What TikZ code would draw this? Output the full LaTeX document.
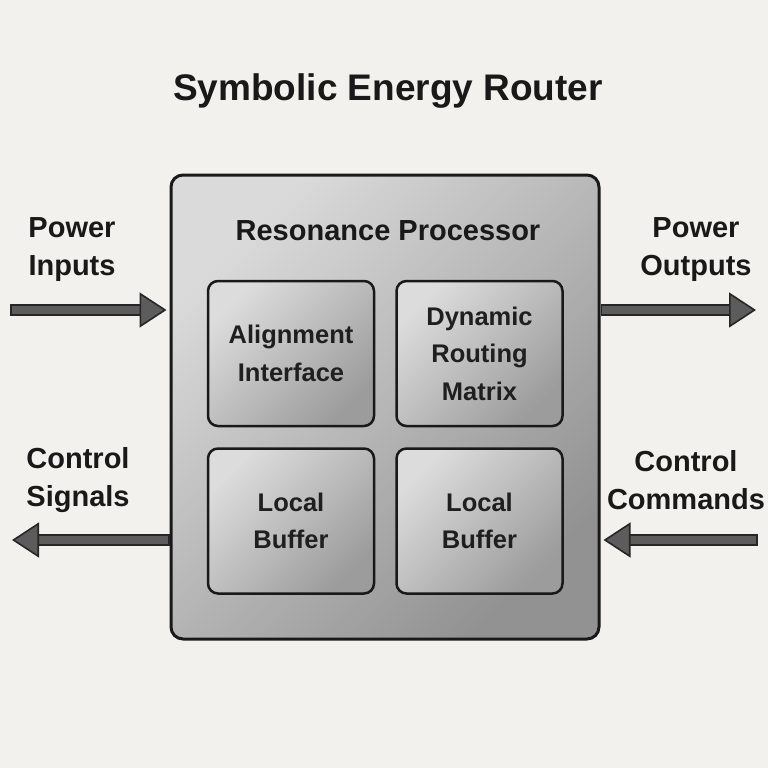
\documentclass[tikz,border=0pt]{standalone}
\usepackage{fontspec}
\setmainfont{Liberation Sans}
\usepackage{xcolor}
\usetikzlibrary{arrows.meta, positioning}

\definecolor{paper}{HTML}{F2F1EE}
\definecolor{boxlight}{HTML}{DADADA}
\definecolor{boxdark}{HTML}{929292}
\definecolor{celllight}{HTML}{DCDCDC}
\definecolor{celldark}{HTML}{9C9C9C}
\definecolor{arrowgray}{HTML}{5C5C5C}

\tikzset{
  outerbox/.style={draw=black!90, line width=3pt, rounded corners=12pt,
    top color=boxlight, bottom color=boxdark, shading angle=45,
    minimum width=428pt, minimum height=464pt, inner sep=0pt},
  cell/.style={draw=black!90, line width=2.5pt, rounded corners=10pt,
    top color=celllight, bottom color=celldark, shading angle=45,
    minimum width=166pt, minimum height=145pt, inner sep=0pt,
    align=center, font=\fontsize{25.5}{37.5}\selectfont\bfseries, text=black!88},
  sidelabel/.style={align=center, font=\fontsize{29}{38}\selectfont\bfseries, text=black!90},
  flowarrow/.style={line width=8.5pt, draw=arrowgray, shorten <=1.7pt,
    -{Triangle[length=27pt, width=35pt, color=black!85, fill=arrowgray, line width=1.6pt]},
    preaction={draw=black!85, line width=12pt, shorten >=16pt, shorten <=0pt, -}}
}

\begin{document}
\begin{tikzpicture}[x=1pt, y=-1pt]
    % page and background
    \useasboundingbox (0,0) rectangle (768,768);
    \fill[paper] (0,0) rectangle (768,768);

    % Title
    \node[font=\fontsize{37}{40}\selectfont\bfseries, text=black!90] (title) at (388,91) {Symbolic Energy Router};

    % Outer processor box
    \node[outerbox] (proc) at (385,407) {};
    \node[sidelabel] (proclabel) at (388,231) {Resonance Processor};

    % Inner cells
    \node[cell] (align) at (291,353.5) {Alignment\\Interface};
    \node[cell, right=20pt of align] (route) {Dynamic\\Routing\\Matrix};
    \node[cell, below=20pt of align] (bufL) {Local\\Buffer};
    \node[cell, below=20pt of route] (bufR) {Local\\Buffer};

    % Side labels
    \node[sidelabel] (pin) at (72,250) {Power\\Inputs};
    \node[sidelabel] (pout) at (696,250) {Power\\Outputs};
    \node[sidelabel] (csig) at (78,480) {Control\\Signals};
    \node[sidelabel] (ccmd) at (686,480) {Control\\Commands};

    % Free ends of the arrows
    \coordinate (pinEnd) at (10,310);
    \coordinate (poutEnd) at (756,310);
    \coordinate (csigEnd) at (12,540);
    \coordinate (ccmdEnd) at (758,540);

    % Arrows
    \draw[flowarrow] (pinEnd) -- ([xshift=-3pt]proc.west |- pinEnd);
    \draw[flowarrow] (proc.east |- poutEnd) -- (poutEnd);
    \draw[flowarrow] (proc.west |- csigEnd) -- (csigEnd);
    \draw[flowarrow] (ccmdEnd) -- ([xshift=3pt]proc.east |- ccmdEnd);
\end{tikzpicture}
\end{document}
